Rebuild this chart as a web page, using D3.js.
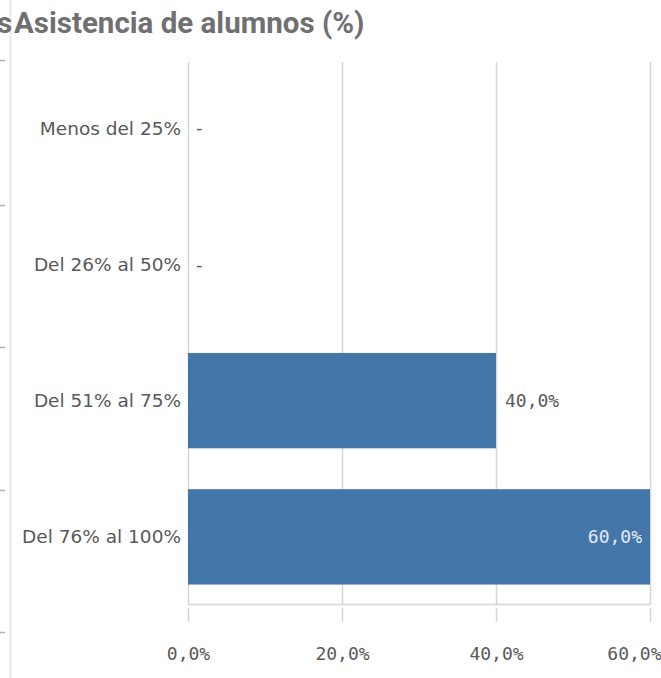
<!DOCTYPE html>
<html>
<head>
<meta charset="utf-8">
<script src="https://cdn.jsdelivr.net/npm/d3@7/dist/d3.min.js"></script>
<style>
  html, body { margin: 0; padding: 0; background: #fff; }
  svg { display: block; }
</style>
</head>
<body>
<svg id="chart" width="661" height="678"></svg>
<script>
// Attendance categories and their share of students (null = no data)
const categories = ["Menos del 25%", "Del 26% al 50%", "Del 51% al 75%", "Del 76% al 100%"];
const values = [null, null, 40, 60];
const tickValues = [0, 20, 40, 60];
const title = "Asistencia de alumnos (%)";

const W = 661, H = 678;
const margin = { left: 188, right: 11, top: 60, bottom: 73 };
const SANS = "'DejaVu Sans', sans-serif";
const MONO = "'DejaVu Sans Mono', monospace";
const TEXT = "#595959";
const GRID = "#d6d6d6";

const svg = d3.select("#chart").attr("font-family", SANS);

const fmt = v => d3.format(".1f")(v).replace(".", ",") + "%";

const x = d3.scaleLinear().domain([0, 60]).range([margin.left, W - margin.right]);
const y = d3.scaleBand().domain(categories)
  .range([margin.top, H - margin.bottom])
  .paddingInner(0.3).paddingOuter(0.15);

// neighbouring panel edge on the left
svg.append("line").attr("x1", 10.5).attr("x2", 10.5).attr("y1", 0).attr("y2", H)
  .attr("stroke", "#e8e8e8").attr("stroke-width", 2);
[60, 205, 347, 490, 632].forEach(py => {
  svg.append("line").attr("x1", 0).attr("x2", 5).attr("y1", py + 0.5).attr("y2", py + 0.5)
    .attr("stroke", "#b0b0b0").attr("stroke-width", 1.5);
});

// title (preceded by the clipped tail of the neighbouring title)
const titleFont = sel => sel
  .attr("font-family", "Roboto, sans-serif")
  .attr("font-size", 29.5).attr("font-weight", "bold").attr("fill", "#707070");
svg.append("text").attr("x", -3).attr("y", 33).call(titleFont).text("s");
svg.append("text").attr("x", 14).attr("y", 33).call(titleFont).text(title);

const plotTop = 62, plotBottom = 604;

// vertical gridlines
svg.append("g").selectAll("line").data(tickValues).join("line")
  .attr("x1", d => Math.round(x(d)) + 0.5).attr("x2", d => Math.round(x(d)) + 0.5)
  .attr("y1", plotTop).attr("y2", plotBottom)
  .attr("stroke", GRID).attr("stroke-width", 1.5);

// bars
const rows = categories.map((c, i) => ({ c, v: values[i] }));
svg.append("g").selectAll("rect").data(rows.filter(d => d.v != null))
  .join("rect")
  .attr("x", x(0)).attr("y", d => y(d.c))
  .attr("width", d => x(d.v) - x(0)).attr("height", y.bandwidth())
  .attr("fill", "#4477a9");

// baseline of the value axis
svg.append("line").attr("x1", x(0)).attr("x2", x(60) + 1)
  .attr("y1", plotBottom + 0.5).attr("y2", plotBottom + 0.5)
  .attr("stroke", GRID).attr("stroke-width", 1.5);

// x axis
const xAxis = d3.axisBottom(x).tickValues(tickValues).tickFormat(fmt).tickSize(14).tickPadding(0);
const gx = svg.append("g").attr("transform", `translate(0,${plotBottom + 4})`).call(xAxis);
gx.select(".domain").remove();
gx.selectAll(".tick line").attr("stroke", GRID).attr("stroke-width", 1.5);
gx.selectAll(".tick text")
  .attr("y", 52).attr("dy", null)
  .attr("font-size", 18).attr("fill", TEXT)
  .attr("font-family", MONO);
gx.selectAll(".tick").filter(d => d === 60).select("text").attr("text-anchor", "end").attr("dx", 11);

// category labels
svg.append("g").selectAll("text").data(categories).join("text")
  .attr("x", margin.left - 7).attr("y", d => y(d) + y.bandwidth() / 2)
  .attr("dy", "0.35em").attr("text-anchor", "end")
  .attr("font-size", 18.5).attr("fill", TEXT)
  .text(d => d);

// value labels
svg.append("g").selectAll("text").data(rows)
  .join("text")
  .attr("y", d => y(d.c) + y.bandwidth() / 2)
  .attr("dy", "0.35em")
  .attr("font-size", 18)
  .attr("font-family", MONO)
  .each(function (d) {
    const t = d3.select(this);
    if (d.v == null) {
      t.attr("x", x(0) + 8).attr("fill", TEXT).attr("font-family", SANS).text("-");
    } else if (d.v >= 50) {
      t.attr("x", x(d.v) - 8).attr("text-anchor", "end").attr("fill", "#e3ebf4").text(fmt(d.v));
    } else {
      t.attr("x", x(d.v) + 9).attr("fill", TEXT).text(fmt(d.v));
    }
  });
</script>
</body>
</html>
